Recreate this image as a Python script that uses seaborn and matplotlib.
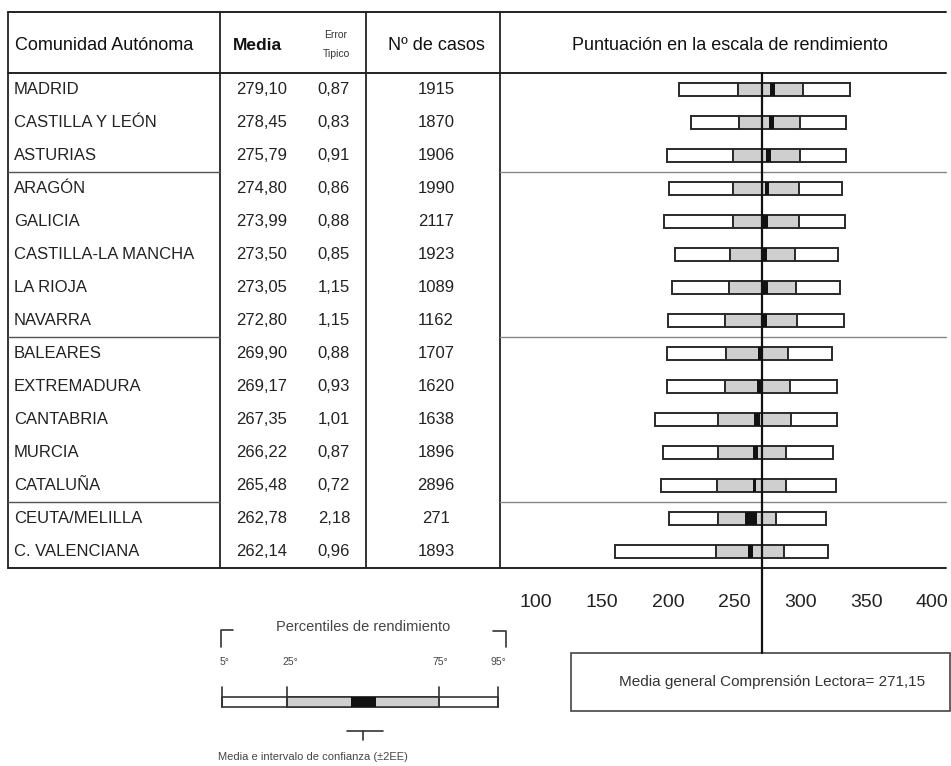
import numpy as np
import pandas as pd
import matplotlib
matplotlib.use("Agg")
import matplotlib.pyplot as plt
from matplotlib.patches import Rectangle
import seaborn as sns

regions = ["MADRID", "CASTILLA Y LEÓN", "ASTURIAS", "ARAGÓN", "GALICIA",
           "CASTILLA-LA MANCHA", "LA RIOJA", "NAVARRA", "BALEARES", "EXTREMADURA",
           "CANTABRIA", "MURCIA", "CATALUÑA", "CEUTA/MELILLA", "C. VALENCIANA"]
media = [279.10, 278.45, 275.79, 274.80, 273.99, 273.50, 273.05, 272.80,
         269.90, 269.17, 267.35, 266.22, 265.48, 262.78, 262.14]
error = [0.87, 0.83, 0.91, 0.86, 0.88, 0.85, 1.15, 1.15,
         0.88, 0.93, 1.01, 0.87, 0.72, 2.18, 0.96]
casos = [1915, 1870, 1906, 1990, 2117, 1923, 1089, 1162,
         1707, 1620, 1638, 1896, 2896, 271, 1893]
p5 = [208, 217, 199, 201, 197, 205, 203, 200, 199, 199, 190, 196, 195, 201, 160]
p25 = [253, 254, 249, 249, 249, 247, 246, 243, 244, 243, 238, 238, 237, 238, 236]
p75 = [302, 300, 300, 299, 299, 296, 297, 298, 291, 292, 293, 289, 289, 282, 288]
p95 = [338, 335, 335, 332, 334, 329, 330, 333, 324, 328, 328, 325, 327, 320, 321]
media_general = 271.15
ticks = [100, 150, 200, 250, 300, 350, 400]

df = pd.DataFrame({"region": regions, "media": media, "se": error,
                   "p5": p5, "p25": p25, "p75": p75, "p95": p95})
df["low"] = df["p25"] - df["p5"]
df["mid"] = df["p75"] - df["p25"]
df["high"] = df["p95"] - df["p75"]
df["ci"] = 4 * df["se"]
df["ci_left"] = df["media"] - 2 * df["se"]

sns.set_style("white")
plt.rcParams["font.family"] = ["Liberation Sans", "DejaVu Sans"]

W, H = 951, 766
fig = plt.figure(figsize=(W / 100, H / 100), dpi=100)

# background axes in pixel coordinates for the table frame and texts
bg = fig.add_axes([0, 0, 1, 1])
bg.set_xlim(0, W)
bg.set_ylim(H, 0)
bg.axis("off")

top, head, bottom = 12, 73, 568
row_h = (bottom - head) / len(regions)
dark = "#222222"

for y in (top, head, bottom):
    bg.plot([8, 946], [y, y], color=dark, lw=1.4)
for x in (8, 220, 366, 500):
    bg.plot([x, x], [top, bottom], color=dark, lw=1.3)
for k in (3, 8, 13):
    y = head + k * row_h
    bg.plot([8, 220], [y, y], color="#555555", lw=1.0)
    bg.plot([500, 946], [y, y], color="#888888", lw=1.0)

# header
hy = 46
bg.text(15, hy, "Comunidad Autónoma", fontsize=13, va="center", color="#111")
bg.text(257, hy, "Media", fontsize=12.5, fontweight="bold", ha="center", va="center", color="#111")
bg.text(336, 35, "Error", fontsize=7.5, ha="center", va="center", color="#333")
bg.text(336, 54, "Tipico", fontsize=7.5, ha="center", va="center", color="#333")
bg.text(436, hy, "Nº de casos", fontsize=13, ha="center", va="center", color="#111")
bg.text(730, hy, "Puntuación en la escala de rendimiento", fontsize=13,
        ha="center", va="center", color="#111")

# table body
for i, r in enumerate(regions):
    y = head + (i + 0.5) * row_h
    bg.text(14, y, r, fontsize=12, va="center", color="#222")
    bg.text(262, y, f"{media[i]:.2f}".replace(".", ","), fontsize=12,
            ha="center", va="center", color="#222")
    bg.text(334, y, f"{error[i]:.2f}".replace(".", ","), fontsize=12,
            ha="center", va="center", color="#222")
    bg.text(436, y, str(casos[i]), fontsize=12, ha="center", va="center", color="#222")

# chart area
x0 = 271.15 + (500 - 762) / 1.32
x1 = 271.15 + (946 - 762) / 1.32
ax = fig.add_axes([500 / W, 1 - bottom / H, 446 / W, (bottom - head) / H])
ax.patch.set_alpha(0)

bar_kw = dict(data=df, y="region", orient="h", width=0.4, errorbar=None,
              edgecolor="#2a2a2a", linewidth=1.4, saturation=1, ax=ax)
sns.barplot(x="low", left=df["p5"].values, color="white", **bar_kw)
sns.barplot(x="mid", left=df["p25"].values, color="#cfcfcf", **bar_kw)
sns.barplot(x="high", left=df["p75"].values, color="white", **bar_kw)
sns.barplot(data=df, y="region", x="ci", left=df["ci_left"].values, orient="h",
            width=0.4, errorbar=None, color="#111111", saturation=1,
            linewidth=0, ax=ax)

ax.axvline(media_general, ymin=-(653 - bottom) / (bottom - head), ymax=1,
           color="#111", lw=1.6, clip_on=False, zorder=5)
ax.set_xlim(x0, x1)
ax.set_ylim(len(regions) - 0.5, -0.5)
ax.set_xticks(ticks)
ax.set_xticklabels([str(t) for t in ticks], fontsize=14, color="#222")
ax.tick_params(axis="x", length=0, pad=19)
ax.tick_params(axis="y", left=False, labelleft=False)
ax.set_xlabel("")
ax.set_ylabel("")
for s in ax.spines.values():
    s.set_visible(False)

# general mean box
bg.add_patch(Rectangle((571, 653), 379, 58, fill=False, edgecolor="#444", lw=1.2))
bg.text(772, 682, "Media general Comprensión Lectora= 271,15", fontsize=11,
        ha="center", va="center", color="#333")

# key for the percentile bars
kc = "#333333"
bg.text(363, 627, "Percentiles de rendimiento", fontsize=10.5, ha="center",
        va="center", color="#444")
bg.plot([221, 221, 233], [647, 630, 630], color=kc, lw=1.2)
bg.plot([493, 506, 506], [631, 631, 647], color=kc, lw=1.2)
for lx, lab in [(225, "5°"), (290, "25°"), (440, "75°"), (498, "95°")]:
    bg.text(lx, 662, lab, fontsize=7.5, ha="center", va="center", color="#444")
bg.add_patch(Rectangle((222, 697), 276, 10, facecolor="white", edgecolor=kc, lw=1.2))
bg.add_patch(Rectangle((287, 697), 152, 10, facecolor="#cfcfcf", edgecolor=kc, lw=1.2))
bg.add_patch(Rectangle((351, 697), 25, 10, facecolor="#111", edgecolor="none"))
for lx in (222, 287, 439, 498):
    bg.plot([lx, lx], [687, 707], color=kc, lw=1.2)
bg.plot([347, 383], [731, 731], color=kc, lw=1.2)
bg.plot([363, 363], [731, 740], color=kc, lw=1.2)
bg.text(218, 757, "Media e intervalo de confianza (±2EE)", fontsize=8,
        va="center", color="#444")

fig.savefig("out.png", dpi=100)
